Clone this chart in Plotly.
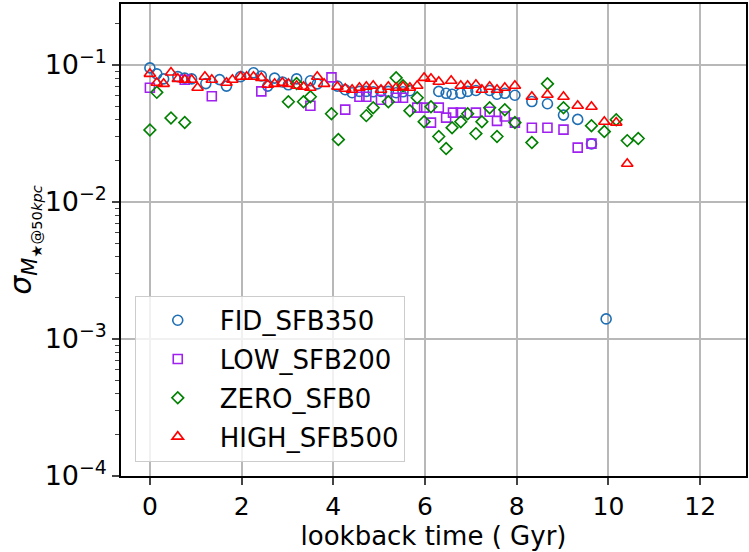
import plotly.graph_objects as go

# lookback time (Gyr) and scatter of stellar mass within 50 kpc, per feedback model
fid_t = [0.0, 0.15, 0.30, 0.61, 0.76, 0.91, 1.22, 1.52, 1.67, 1.98, 2.26, 2.43, 2.57, 2.72,
         2.89, 3.02, 3.20, 3.50, 3.65, 4.09, 4.26, 4.41, 4.57, 4.72, 4.87, 5.04, 5.20, 5.37,
         5.52, 5.67, 6.30, 6.46, 6.59, 6.78, 6.93, 7.11, 7.41, 7.57, 7.74, 7.96, 8.33, 8.67,
         9.02, 9.33, 9.63, 9.95]
fid_s = [0.095, 0.086, 0.079, 0.082, 0.080, 0.079, 0.073, 0.078, 0.070, 0.082, 0.0875, 0.083,
         0.070, 0.080, 0.075, 0.0715, 0.079, 0.0765, 0.0727, 0.070, 0.0658, 0.0626, 0.064,
         0.064, 0.0636, 0.064, 0.064, 0.0626, 0.0636, 0.0647, 0.064, 0.062, 0.061, 0.062,
         0.064, 0.065, 0.065, 0.061, 0.062, 0.060, 0.054, 0.052, 0.043, 0.040, 0.0265,
         0.0014]

low_t = [0.0, 0.76, 1.35, 2.43, 3.50, 3.96, 4.26, 4.57, 4.72, 5.04, 5.37, 5.52, 5.83, 5.98,
         6.13, 6.30, 6.46, 6.61, 6.78, 7.11, 7.41, 7.57, 7.74, 7.96, 8.33, 8.67, 9.02, 9.33,
         9.63]
low_s = [0.068, 0.0778, 0.059, 0.064, 0.0503, 0.081, 0.0471, 0.0585, 0.0585, 0.0556, 0.0575,
         0.0575, 0.0487, 0.0487, 0.0379, 0.0487, 0.0412, 0.0448, 0.0448, 0.0448, 0.0455, 0.039,
         0.042, 0.0379, 0.0348, 0.0348, 0.0337, 0.0249, 0.0266]

zero_t = [0.0, 0.15, 0.46, 0.76, 3.02, 3.20, 3.35, 3.50, 3.96, 4.11, 4.72, 4.87, 5.20, 5.37,
          5.52, 5.67, 5.83, 5.98, 6.13, 6.30, 6.46, 6.59, 6.78, 6.93, 7.11, 7.24, 7.41, 7.57,
          7.74, 7.96, 8.33, 8.67, 9.02, 9.63, 9.91, 10.17, 10.41, 10.65]
zero_s = [0.0335, 0.063, 0.041, 0.038, 0.0538, 0.073, 0.0538, 0.0585, 0.044, 0.0285, 0.0426,
          0.0487, 0.0538, 0.0804, 0.0703, 0.0463, 0.0575, 0.0385, 0.0495, 0.030, 0.0245, 0.0348,
          0.0385, 0.044, 0.0315, 0.0385, 0.0487, 0.030, 0.047, 0.0379, 0.0271, 0.0727, 0.0486,
          0.036, 0.0326, 0.0398, 0.028, 0.029]

high_t = [0.0, 0.15, 0.30, 0.46, 0.61, 0.76, 0.91, 1.04, 1.20, 1.35, 1.67, 1.80, 1.98, 2.11,
          2.26, 2.43, 2.57, 2.72, 2.89, 3.02, 3.20, 3.35, 3.50, 3.65, 3.80, 4.09, 4.26, 4.41,
          4.57, 4.72, 4.87, 5.04, 5.20, 5.37, 5.52, 5.67, 5.83, 5.98, 6.13, 6.30, 6.57, 6.78,
          6.93, 7.11, 7.24, 7.41, 7.57, 7.74, 7.96, 8.33, 8.67, 9.02, 9.33, 9.63, 9.91, 10.17,
          10.41]
high_s = [0.086, 0.074, 0.0727, 0.088, 0.079, 0.0778, 0.0778, 0.068, 0.0818, 0.0778, 0.074,
          0.0778, 0.0818, 0.0818, 0.0818, 0.0804, 0.0715, 0.0727, 0.074, 0.0727, 0.0703, 0.0692,
          0.068, 0.0818, 0.0727, 0.0692, 0.0669, 0.0658, 0.068, 0.0692, 0.0703, 0.0658, 0.0692,
          0.068, 0.0692, 0.068, 0.0703, 0.0804, 0.0791, 0.0752, 0.0765, 0.0703, 0.0703, 0.0715,
          0.0658, 0.0692, 0.0658, 0.068, 0.0703, 0.0585, 0.0605, 0.0585, 0.0503, 0.0495, 0.0384,
          0.0379, 0.019]

y_tickvals = [1e-4, 1e-3, 1e-2, 1e-1]
y_ticktext = ["10<sup>\u22124</sup>", "10<sup>\u22123</sup>", "10<sup>\u22122</sup>", "10<sup>\u22121</sup>"]
x_tickvals = [0, 2, 4, 6, 8, 10, 12]

series = [
    ("FID_SFB350", fid_t, fid_s, "circle-open", "#1f6fb4", 10),
    ("LOW_SFB200", low_t, low_s, "square-open", "#a020f0", 9),
    ("ZERO_SFB0", zero_t, zero_s, "diamond-open", "#008000", 9),
    ("HIGH_SFB500", high_t, high_s, "triangle-up-open", "#ff0000", 10),
]

fig = go.Figure()
for name, t, s, sym, col, size in series:
    fig.add_trace(go.Scatter(
        x=t, y=s, mode="markers", name=name, legendgroup=name,
        marker=dict(symbol=sym, size=size, color=col, line=dict(color=col, width=1.6)),
    ))

minor_vals = [m * 10 ** e for e in range(-4, 0) for m in range(2, 10)]

fig.update_layout(
    width=749, height=552,
    margin=dict(l=121, r=1, t=4, b=76),
    paper_bgcolor="white", plot_bgcolor="white",
    font=dict(family="DejaVu Sans", color="black"),
    showlegend=True,
    legend=dict(
        x=0.022, y=0.03, xanchor="left", yanchor="bottom",
        bgcolor="rgba(255,255,255,0.8)", bordercolor="#cccccc", borderwidth=1,
        font=dict(size=26, family="DejaVu Sans"),
        traceorder="grouped", tracegroupgap=2, itemwidth=74,
    ),
    xaxis=dict(
        range=[-0.63, 13.0], tickvals=x_tickvals, ticks="outside", ticklen=7, tickwidth=1.5,
        showline=True, linecolor="black", linewidth=1.5, mirror=True,
        showgrid=True, gridcolor="#b8b8b8", gridwidth=1.5, zeroline=False,
        tickfont=dict(size=25),
        title=dict(text="lookback time ( Gyr)", font=dict(size=26), standoff=2),
    ),
    yaxis=dict(
        type="log", range=[-4, -0.556], tickvals=y_tickvals, ticktext=y_ticktext,
        ticks="outside", ticklen=7, tickwidth=1.5,
        showline=True, linecolor="black", linewidth=1.5, mirror=True,
        showgrid=True, gridcolor="#b8b8b8", gridwidth=1.5, zeroline=False,
        tickfont=dict(size=27),
        minor=dict(tickvals=minor_vals, ticks="outside", ticklen=4, tickwidth=1, showgrid=False),
        title=dict(text="<i>\u03c3</i><sub><i>M</i><sub>\u2605@50<i>kpc</i></sub></sub>",
                   font=dict(size=30), standoff=2),
    ),
)

fig.write_html("out.html")
